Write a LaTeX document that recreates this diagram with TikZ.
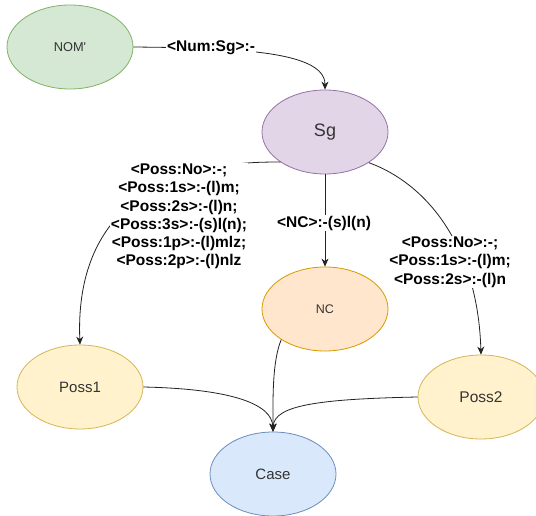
\documentclass[tikz,border=0pt]{standalone}
\usepackage{fontspec}
\setmainfont{Liberation Sans}
\usetikzlibrary{shapes.geometric,arrows.meta}

\definecolor{greenfill}{HTML}{D5E8D4}\definecolor{greenline}{HTML}{82B366}
\definecolor{purplefill}{HTML}{E1D5E7}\definecolor{purpleline}{HTML}{9673A6}
\definecolor{orangefill}{HTML}{FFE6CC}\definecolor{orangeline}{HTML}{D79B00}
\definecolor{yellowfill}{HTML}{FFF2CC}\definecolor{yellowline}{HTML}{D6B656}
\definecolor{bluefill}{HTML}{DAE8FC}\definecolor{blueline}{HTML}{6C8EBF}
\definecolor{nodetext}{HTML}{333333}
\definecolor{edgecol}{HTML}{222222}

\begin{document}
\begin{tikzpicture}[x=1pt,y=-1pt,
  state/.style={ellipse, line width=0.8pt, minimum width=126pt, minimum height=84pt,
    inner sep=0pt, text=nodetext},
  conn/.style={draw=edgecol, line width=0.8pt,
    -{Stealth[length=8pt,width=7pt,inset=2.5pt]}},
  elabel/.style={fill=white, text=black, align=center, inner sep=1pt,
    font=\fontsize{15.5}{18.3}\selectfont\bfseries}
]
\clip (0,0) rectangle (536,516);
\fill[white] (0,0) rectangle (536,516);

% states
\node[state, fill=greenfill, draw=greenline, font=\fontsize{12.8}{15}\selectfont]
  (nom) at (70,47) {NOM\textquotesingle};
\node[state, fill=purplefill, draw=purpleline, font=\fontsize{18}{21}\selectfont]
  (sg) at (325,132) {Sg};
\node[state, fill=orangefill, draw=orangeline, font=\fontsize{12.5}{15}\selectfont]
  (nc) at (325,309) {NC};
\node[state, fill=yellowfill, draw=yellowline, font=\fontsize{15}{18}\selectfont]
  (p1) at (80,387) {Poss1};
\node[state, fill=yellowfill, draw=yellowline, font=\fontsize{15.5}{18}\selectfont]
  (p2) at (481,397) {Poss2};
\node[state, fill=bluefill, draw=blueline, font=\fontsize{15}{18}\selectfont]
  (case) at (273,474) {Case};

% transitions
\draw[conn] (nom.east) .. controls (230,48) and (325,50) .. (sg.north);
\draw[conn] (sg.214) .. controls (150,160) and (75,220) .. (p1.north);
\draw[conn] (sg.south) -- (nc.north);
\draw[conn] (sg.-35) .. controls (430,185) and (478,250) .. (p2.north);
\draw[conn] (p1.east) .. controls (235,389) and (272,405) .. (case.north);
\draw[conn] (nc.215) .. controls (272,362) and (273,400) .. (case.north);
\draw[conn] (p2.west) .. controls (320,399) and (274,405) .. (case.north);

% transition labels
\node[elabel] (lnum) at (211,48) {<Num:Sg>:-};
\node[elabel] (lp1) at (179,216.5) {<Poss:No>:-;\\<Poss:1s>:-(l)m;\\<Poss:2s>:-(l)n;\\
  <Poss:3s>:-(s)l(n);\\<Poss:1p>:-(l)mlz;\\<Poss:2p>:-(l)nlz};
\node[elabel] (lnc) at (324,223) {<NC>:-(s)l(n)};
\node[elabel] (lp2) at (450,262) {<Poss:No>:-;\\<Poss:1s>:-(l)m;\\<Poss:2s>:-(l)n};
\end{tikzpicture}
\end{document}
